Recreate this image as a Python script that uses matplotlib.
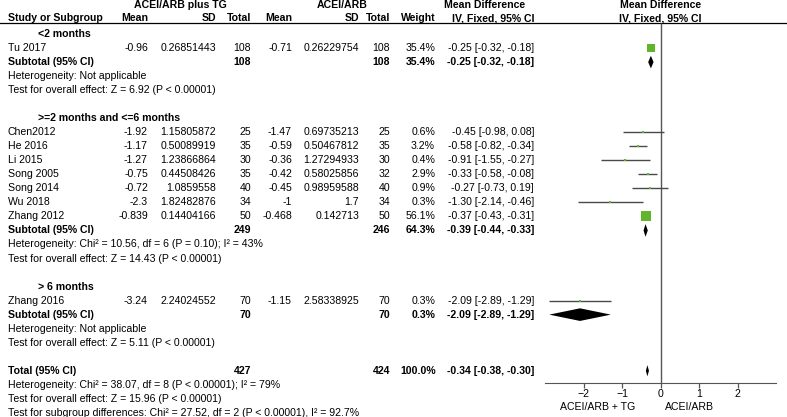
import matplotlib
matplotlib.use('Agg')
import matplotlib.pyplot as plt
import numpy as np

plt.rcParams['font.family'] = ['Liberation Sans', 'DejaVu Sans']
FS = 7.6

# ---- data -------------------------------------------------------------
studies = ['Tu 2017', 'Chen2012', 'He 2016', 'Li 2015', 'Song 2005', 'Song 2014',
           'Wu 2018', 'Zhang 2012', 'Zhang 2016']
group = [0, 1, 1, 1, 1, 1, 1, 1, 2]
mean_tg = ['-0.96', '-1.92', '-1.17', '-1.27', '-0.75', '-0.72', '-2.3', '-0.839', '-3.24']
sd_tg = ['0.26851443', '1.15805872', '0.50089919', '1.23866864', '0.44508426',
         '1.0859558', '1.82482876', '0.14404166', '2.24024552']
n_tg = [108, 25, 35, 30, 35, 40, 34, 50, 70]
mean_ct = ['-0.71', '-1.47', '-0.59', '-0.36', '-0.42', '-0.45', '-1', '-0.468', '-1.15']
sd_ct = ['0.26229754', '0.69735213', '0.50467812', '1.27294933', '0.58025856',
         '0.98959588', '1.7', '0.142713', '2.58338925']
n_ct = [108, 25, 35, 30, 32, 40, 34, 50, 70]
weight = [35.4, 0.6, 3.2, 0.4, 2.9, 0.9, 0.3, 56.1, 0.3]
md = [-0.25, -0.45, -0.58, -0.91, -0.33, -0.27, -1.30, -0.37, -2.09]
lo = [-0.32, -0.98, -0.82, -1.55, -0.58, -0.73, -2.14, -0.43, -2.89]
hi = [-0.18, 0.08, -0.34, -0.27, -0.08, 0.19, -0.46, -0.31, -1.29]

sub_names = ['<2 months', '>=2 months and <=6 months', '> 6 months']
sub_n_tg = [108, 249, 70]
sub_n_ct = [108, 246, 70]
sub_weight = [35.4, 64.3, 0.3]
sub_md = [-0.25, -0.39, -2.09]
sub_lo = [-0.32, -0.44, -2.89]
sub_hi = [-0.18, -0.33, -1.29]
sub_het = ['Heterogeneity: Not applicable',
           'Heterogeneity: Chi² = 10.56, df = 6 (P = 0.10); I² = 43%',
           'Heterogeneity: Not applicable']
sub_test = ['Test for overall effect: Z = 6.92 (P < 0.00001)',
            'Test for overall effect: Z = 14.43 (P < 0.00001)',
            'Test for overall effect: Z = 5.11 (P < 0.00001)']

tot_n = (427, 424)
tot_md, tot_lo, tot_hi = -0.34, -0.38, -0.30
tot_lines = ['Heterogeneity: Chi² = 38.07, df = 8 (P < 0.00001); I² = 79%',
             'Test for overall effect: Z = 15.96 (P < 0.00001)',
             'Test for subgroup differences: Chi² = 27.52, df = 2 (P < 0.00001), I² = 92.7%']

# ---- layout -------------------------------------------------------------
W, H = 787, 417
ROW0, ROWH = 20, 14.03
ylim = ((H - ROW0) / ROWH, -ROW0 / ROWH)

fig = plt.figure(figsize=(W / 100, H / 100), dpi=100)
tx = fig.add_axes([0, 0, 1, 1])
tx.set_xlim(0, W)
tx.set_ylim(*ylim)
tx.axis('off')

fx = fig.add_axes([545 / W, 0, 231 / W, 1])
fx.set_xlim(-3, 3)
fx.set_ylim(*ylim)
fx.patch.set_alpha(0)

# column x positions (pixels)
X_NAME, X_SUB = 8, 38
X_M1, X_SD1, X_N1 = 148, 216, 251
X_M2, X_SD2, X_N2 = 292, 359, 390
X_W, X_CI = 435, 534
HDR1, HDR2, HLINE = -1.07, -0.14, 0.21


def t(x, r, s, ha='right', bold=False):
    tx.text(x, r, s, ha=ha, va='center', fontsize=FS,
            fontweight='bold' if bold else 'normal', color='black')


def ci_str(m, a, b):
    return f'{m:.2f} [{a:.2f}, {b:.2f}]'


# headers
t(180, HDR1, 'ACEI/ARB plus TG', ha='center', bold=True)
t(342, HDR1, 'ACEI/ARB', ha='center', bold=True)
t(485, HDR1, 'Mean Difference', ha='center', bold=True)
for x, s, ha in [(X_NAME, 'Study or Subgroup', 'left'), (X_M1, 'Mean', 'right'),
                 (X_SD1, 'SD', 'right'), (X_N1, 'Total', 'right'),
                 (X_M2, 'Mean', 'right'), (X_SD2, 'SD', 'right'),
                 (X_N2, 'Total', 'right'), (X_W + 1, 'Weight', 'right'),
                 (X_CI, 'IV, Fixed, 95% CI', 'right')]:
    t(x, HDR2, s, ha=ha, bold=True)
fx.text(0, HDR1, 'Mean Difference', ha='center', va='center', fontsize=FS, fontweight='bold')
fx.text(0, HDR2, 'IV, Fixed, 95% CI', ha='center', va='center', fontsize=FS, fontweight='bold')
tx.axhline(HLINE, color='black', lw=0.9)

GREEN = '#62b52b'
LINE = '#4a4a4a'

r = 1
for g in range(3):
    t(X_SUB, r, sub_names[g], ha='left', bold=True)
    r += 1
    for i in [k for k in range(len(studies)) if group[k] == g]:
        t(X_NAME, r, studies[i], ha='left')
        t(X_M1, r, mean_tg[i]); t(X_SD1, r, sd_tg[i]); t(X_N1, r, str(n_tg[i]))
        t(X_M2, r, mean_ct[i]); t(X_SD2, r, sd_ct[i]); t(X_N2, r, str(n_ct[i]))
        t(X_W, r, f'{weight[i]:.1f}%')
        t(X_CI, r, ci_str(md[i], lo[i], hi[i]))
        fx.plot([lo[i], hi[i]], [r, r], color=LINE, lw=1, solid_capstyle='butt', zorder=3)
        side = max(2.0, 10 * np.sqrt(weight[i] / 56.1))
        fx.plot(md[i], r, marker='s', ms=side * 0.72, color=GREEN, mew=0, zorder=4)
        r += 1
    t(X_NAME, r, 'Subtotal (95% CI)', ha='left', bold=True)
    t(X_N1, r, str(sub_n_tg[g]), bold=True)
    t(X_N2, r, str(sub_n_ct[g]), bold=True)
    t(X_W, r, f'{sub_weight[g]:.1f}%', bold=True)
    t(X_CI, r, ci_str(sub_md[g], sub_lo[g], sub_hi[g]), bold=True)
    fx.fill([sub_lo[g], sub_md[g], sub_hi[g], sub_md[g]], [r, r - 0.45, r, r + 0.45],
            color='black', lw=0, zorder=4)
    r += 1
    t(X_NAME, r, sub_het[g], ha='left')
    r += 1
    t(X_NAME, r, sub_test[g], ha='left')
    r += 2

t(X_NAME, r, 'Total (95% CI)', ha='left', bold=True)
t(X_N1, r, str(tot_n[0]), bold=True)
t(X_N2, r, str(tot_n[1]), bold=True)
t(X_W + 1, r, '100.0%', bold=True)
t(X_CI, r, ci_str(tot_md, tot_lo, tot_hi), bold=True)
fx.fill([tot_lo, tot_md, tot_hi, tot_md], [r, r - 0.4, r, r + 0.4],
        color='black', lw=0, zorder=4)
for k, s in enumerate(tot_lines):
    t(X_NAME, r + 1 + k, s, ha='left')
axis_row = r + 0.86

# forest axis
fx.vlines(0, HLINE, axis_row, color='#555555', lw=1, zorder=2)
for s in ['left', 'right', 'top']:
    fx.spines[s].set_visible(False)
fx.spines['bottom'].set_position(('data', axis_row))
fx.spines['bottom'].set_color('#555555')
fx.set_yticks([])
fx.set_xticks([-2, -1, 0, 1, 2])
fx.tick_params(axis='x', direction='out', length=3.5, width=0.9, color='#555555',
               labelsize=FS, pad=1)
fx.text(-0.65, axis_row + 1.75, 'ACEI/ARB + TG', ha='right', va='center', fontsize=FS)
fx.text(0.12, axis_row + 1.75, 'ACEI/ARB', ha='left', va='center', fontsize=FS)

fig.savefig('out.png', dpi=100)
